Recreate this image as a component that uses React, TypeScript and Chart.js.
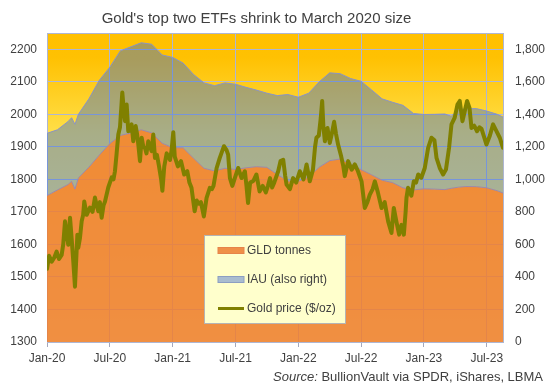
import React, { useEffect, useRef } from 'react';
import { Chart, registerables } from 'chart.js';

Chart.register(...registerables);

const FONT = '"Liberation Sans", Arial, sans-serif';
const TXT = '#404040';
const GRID = '#AEB6D2';

const titleText = "Gold's top two ETFs shrink to March 2020 size";
const sourceLabel = 'Source:';
const sourceText = ' BullionVault via SPDR, iShares, LBMA';

// x axis: months since Jan 2020
const X_MAX = 43.55;
const tickMonths = [0, 6, 12, 18, 24, 30, 36, 42];
const tickLabels = ['Jan-20', 'Jul-20', 'Jan-21', 'Jul-21', 'Jan-22', 'Jul-22', 'Jan-23', 'Jul-23'];

const LEFT_MIN = 1300;
const LEFT_MAX = 2250;
const leftTicks = [1300, 1400, 1500, 1600, 1700, 1800, 1900, 2000, 2100, 2200];
const RIGHT_MAX = 1900;
const rightTicks = [0, 200, 400, 600, 800, 1000, 1200, 1400, 1600, 1800];

const etfMonths = [0, 1, 2, 2.35, 2.67, 3, 4, 5, 6, 7, 8, 9, 10, 11, 12, 13, 14, 15, 16, 17, 18, 19, 20, 21, 22, 23, 24, 25, 26, 27, 28, 29, 30, 31, 32, 33, 34, 35, 36, 37, 38, 38.6, 39.3, 40, 41, 42, 43, 43.55];
const gldTonnes = [900, 935, 968, 988, 940, 1009, 1075, 1150, 1220, 1270, 1285, 1305, 1286, 1222, 1195, 1194, 1130, 1068, 1052, 1068, 1061, 1071, 1078, 1074, 1030, 990, 988, 1015, 1075, 1115, 1125, 1095, 1060, 1028, 995, 980, 948, 935, 942, 940, 937, 945, 952, 956, 955, 948, 930, 916];
const iauTonnes = [383, 370, 387, 391, 398, 391, 420, 460, 470, 520, 530, 535, 545, 543, 555, 521, 515, 525, 524, 525, 524, 495, 471, 456, 485, 532, 517, 515, 525, 540, 525, 525, 543, 522, 500, 494, 507, 470, 457, 460, 465, 443, 476, 478, 480, 472, 470, 467];

const goldMonths = [0, 0.2, 0.45, 0.7, 0.92, 1.15, 1.4, 1.55, 1.72, 1.85, 2.03, 2.2, 2.35, 2.51, 2.67, 2.8, 2.9, 2.99, 3.15, 3.31, 3.45, 3.56, 3.79, 4.1, 4.35, 4.58, 4.75, 4.9, 5.05, 5.22, 5.4, 5.54, 5.85, 6.18, 6.35, 6.49, 6.65, 6.81, 6.97, 7.19, 7.32, 7.45, 7.61, 7.76, 7.93, 8.08, 8.24, 8.47, 8.6, 8.72, 8.88, 9.04, 9.2, 9.35, 9.5, 9.67, 9.85, 9.99, 10.15, 10.31, 10.5, 10.7, 10.9, 11.02, 11.2, 11.43, 11.6, 11.75, 11.9, 12.06, 12.2, 12.5, 12.8, 13.1, 13.4, 13.6, 13.8, 14.1, 14.3, 14.5, 14.7, 14.98, 15.24, 15.55, 15.75, 15.9, 16.2, 16.5, 16.9, 17.15, 17.3, 17.47, 17.7, 17.9, 18.26, 18.58, 18.9, 19.05, 19.2, 19.4, 19.7, 20.0, 20.3, 20.6, 20.9, 21.1, 21.3, 21.5, 21.7, 22.08, 22.3, 22.56, 22.75, 22.88, 23.2, 23.5, 23.8, 24.15, 24.5, 24.79, 25.1, 25.4, 25.6, 25.73, 25.96, 26.15, 26.28, 26.4, 26.54, 26.79, 27.01, 27.2, 27.42, 27.6, 27.8, 28.1, 28.3, 28.44, 28.76, 29.1, 29.4, 29.7, 30.04, 30.35, 30.6, 30.83, 31.1, 31.31, 31.6, 31.95, 32.25, 32.58, 32.9, 33.12, 33.37, 33.63, 33.85, 34.08, 34.25, 34.33, 34.48, 34.8, 35.03, 35.25, 35.45, 35.75, 36.08, 36.4, 36.72, 37.0, 37.2, 37.51, 37.83, 38.1, 38.4, 38.63, 38.94, 39.2, 39.42, 39.68, 39.9, 40.12, 40.35, 40.54, 40.8, 41.07, 41.3, 41.5, 41.75, 41.97, 42.3, 42.6, 42.9, 43.24, 43.55];
const goldPrices = [1525, 1565, 1547, 1560, 1578, 1555, 1568, 1600, 1671, 1640, 1599, 1682, 1620, 1548, 1470, 1560, 1630, 1590, 1620, 1671, 1690, 1732, 1691, 1713, 1700, 1744, 1720, 1702, 1730, 1682, 1720, 1732, 1775, 1806, 1800, 1825, 1880, 1938, 1960, 2067, 2020, 1979, 2030, 1948, 1950, 1969, 1917, 1964, 1940, 1907, 1856, 1928, 1900, 1897, 1880, 1917, 1900, 1887, 1938, 1866, 1875, 1840, 1800, 1765, 1840, 1880, 1870, 1860, 1890, 1945, 1870, 1840, 1856, 1815, 1825, 1790, 1774, 1702, 1735, 1725, 1730, 1686, 1743, 1774, 1770, 1780, 1835, 1866, 1902, 1890, 1876, 1804, 1780, 1800, 1835, 1804, 1825, 1780, 1727, 1790, 1795, 1815, 1763, 1780, 1760, 1780, 1804, 1775, 1790, 1825, 1856, 1860, 1810, 1784, 1770, 1804, 1790, 1825, 1800, 1846, 1794, 1830, 1900, 1928, 1935, 1990, 2041, 1960, 1917, 1958, 1912, 1940, 1977, 1940, 1907, 1870, 1840, 1810, 1856, 1830, 1846, 1825, 1794, 1712, 1730, 1753, 1770, 1794, 1760, 1712, 1730, 1671, 1635, 1712, 1670, 1630, 1660, 1630, 1700, 1743, 1774, 1750, 1794, 1790, 1815, 1805, 1835, 1897, 1928, 1920, 1866, 1835, 1815, 1830, 1897, 1969, 1990, 2030, 2041, 1979, 2010, 2041, 2020, 1958, 1965, 1948, 1960, 1955, 1930, 1907, 1935, 1969, 1950, 1928, 1897];

const GLD_FILL = 'rgba(237,125,49,0.85)';
const IAU_FILL = 'rgba(37,100,230,0.4)';
const GOLD_LINE = '#808000';

const bgPlugin = {
  id: 'bgGradient',
  beforeDraw(chart: any) {
    const { ctx, chartArea: a } = chart;
    const g = ctx.createLinearGradient(0, a.top, 0, a.bottom);
    g.addColorStop(0, '#FFC000');
    g.addColorStop(0.08, '#FFC102');
    g.addColorStop(0.33, '#FFE04A');
    g.addColorStop(1, '#FFF5A0');
    ctx.save();
    ctx.fillStyle = g;
    ctx.fillRect(a.left, a.top, a.right - a.left, a.bottom - a.top);
    ctx.restore();
  },
};

const textPlugin = {
  id: 'texts',
  afterDraw(chart: any) {
    const { ctx } = chart;
    ctx.save();
    // title
    ctx.fillStyle = TXT;
    ctx.font = `15px ${FONT}`;
    ctx.textAlign = 'center';
    ctx.textBaseline = 'middle';
    ctx.fillText(titleText, 256.5, 19);

    // source
    ctx.textAlign = 'left';
    ctx.font = `13px ${FONT}`;
    const wNorm = ctx.measureText(sourceText).width;
    ctx.font = `italic 13px ${FONT}`;
    const wIt = ctx.measureText(sourceLabel).width;
    const startX = 543 - wNorm - wIt;
    ctx.fillText(sourceLabel, startX, 377);
    ctx.font = `13px ${FONT}`;
    ctx.fillText(sourceText, startX + wIt, 377);

    // legend box
    const bx = 204.5, by = 235.5, bw = 141, bh = 88;
    ctx.fillStyle = '#FFFFCC';
    ctx.fillRect(bx, by, bw, bh);
    ctx.strokeStyle = '#B4B4B4';
    ctx.lineWidth = 1;
    ctx.strokeRect(bx, by, bw, bh);

    const ds = chart.data.datasets;
    const rowsY = [250.5, 279.5, 308.5];
    ctx.font = `12px ${FONT}`;
    ctx.textBaseline = 'middle';
    // GLD swatch
    ctx.fillStyle = '#EF9048';
    ctx.fillRect(218, rowsY[0] - 3, 26, 6);
    ctx.strokeStyle = '#E6844A';
    ctx.strokeRect(218, rowsY[0] - 3, 26, 6);
    // IAU swatch
    ctx.fillStyle = '#A9BCCF';
    ctx.fillRect(218, rowsY[1] - 3, 26, 6);
    ctx.strokeStyle = '#8C9EC2';
    ctx.strokeRect(218, rowsY[1] - 3, 26, 6);
    // gold line
    ctx.strokeStyle = GOLD_LINE;
    ctx.lineWidth = 3;
    ctx.beginPath();
    ctx.moveTo(218, rowsY[2]);
    ctx.lineTo(244, rowsY[2]);
    ctx.stroke();

    ctx.fillStyle = TXT;
    ds.forEach((d: any, i: number) => {
      ctx.fillText(d.label, 247, rowsY[i]);
    });
    ctx.restore();
  },
};

export default function App() {
  const ref = useRef<HTMLCanvasElement>(null);
  useEffect(() => {
    document.body.style.margin = '0';
    const canvas = ref.current!;
    const chart = new Chart(canvas, {
      type: 'line',
      data: {
        datasets: [
          {
            label: 'GLD tonnes',
            data: etfMonths.map((m, i) => ({ x: m, y: gldTonnes[i] })),
            yAxisID: 'yR',
            stack: 'etf',
            borderColor: '#9A88AE',
            borderWidth: 1,
            backgroundColor: GLD_FILL,
            fill: 'origin',
            pointRadius: 0,
            order: 1,
          },
          {
            label: 'IAU (also right)',
            data: etfMonths.map((m, i) => ({ x: m, y: iauTonnes[i] })),
            yAxisID: 'yR',
            stack: 'etf',
            borderColor: '#8A94C4',
            borderWidth: 1,
            backgroundColor: IAU_FILL,
            fill: '-1',
            pointRadius: 0,
            order: 1,
          },
          {
            label: 'Gold price ($/oz)',
            data: goldMonths.map((m, i) => ({ x: m, y: goldPrices[i] })),
            yAxisID: 'y',
            borderColor: GOLD_LINE,
            borderWidth: 4,
            borderJoinStyle: 'round',
            borderCapStyle: 'round',
            fill: false,
            pointRadius: 0,
            order: 0,
          },
        ] as any,
      },
      options: {
        animation: false,
        responsive: false,
        devicePixelRatio: 1,
        layout: { padding: { top: 33, left: 0, right: 0, bottom: 0 } },
        plugins: {
          legend: { display: false },
          title: { display: false },
          tooltip: { enabled: false },
        },
        scales: {
          x: {
            type: 'linear',
            min: 0,
            max: X_MAX,
            afterBuildTicks: (s: any) => {
              s.ticks = tickMonths.map((v) => ({ value: v }));
            },
            afterFit: (s: any) => {
              s.height = 46;
            },
            grid: { color: GRID, tickLength: 5, tickColor: '#A4A8BC' },
            border: { color: GRID },
            ticks: {
              color: TXT,
              font: { family: FONT, size: 12 },
              padding: 4,
              maxRotation: 0,
              autoSkip: false,
              callback: (v: any) => {
                const i = tickMonths.indexOf(Number(v));
                return i >= 0 ? tickLabels[i] : '';
              },
            },
          },
          y: {
            position: 'left',
            min: LEFT_MIN,
            max: LEFT_MAX,
            afterBuildTicks: (s: any) => {
              s.ticks = [...leftTicks, LEFT_MAX].map((v) => ({ value: v }));
            },
            afterFit: (s: any) => {
              s.width = 47;
            },
            grid: { color: GRID, drawTicks: false },
            border: { color: GRID },
            ticks: {
              color: TXT,
              font: { family: FONT, size: 12 },
              padding: 10,
              callback: (v: any) => (leftTicks.includes(Number(v)) ? String(v) : ''),
            },
          },
          yR: {
            position: 'right',
            stacked: true,
            min: 0,
            max: RIGHT_MAX,
            afterBuildTicks: (s: any) => {
              s.ticks = rightTicks.map((v) => ({ value: v }));
            },
            afterFit: (s: any) => {
              s.width = 43;
            },
            grid: { drawOnChartArea: false, drawTicks: false },
            border: { color: GRID },
            ticks: {
              color: TXT,
              font: { family: FONT, size: 12 },
              padding: 12,
              callback: (v: any) => Number(v).toLocaleString('en-US'),
            },
          },
        },
      } as any,
      plugins: [bgPlugin, textPlugin],
    });
    return () => chart.destroy();
  }, []);

  return (
    <div style={{ width: 546, height: 388, position: 'relative' }}>
      <canvas ref={ref} width={546} height={388} style={{ display: 'block' }} />
    </div>
  );
}
